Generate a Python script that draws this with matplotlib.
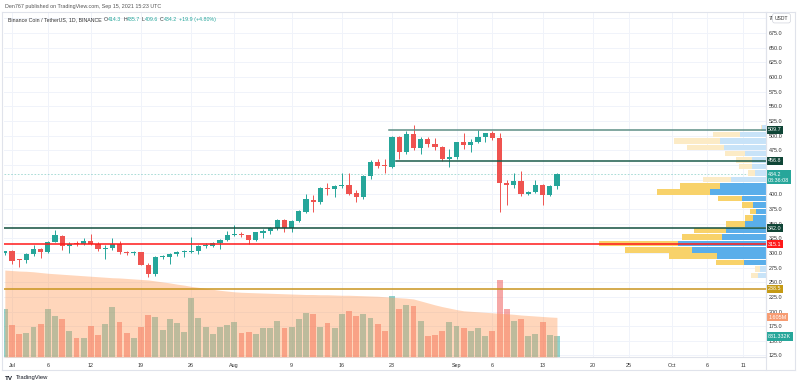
import matplotlib
matplotlib.use('Agg')
import matplotlib.pyplot as plt
import matplotlib.dates as mdates
import matplotlib.transforms as mtrans
from matplotlib.lines import Line2D
import numpy as np
import pandas as pd

plt.rcParams['font.family'] = ['Liberation Sans', 'DejaVu Sans']

# ---------------- data ----------------
dates = pd.date_range('2021-06-30', '2021-09-15', freq='D')
opens = [300, 302.5, 289, 287.5, 298, 307, 301, 319, 328, 311, 317, 315, 321, 316, 307, 309, 316, 302, 299, 301,
         280, 264, 293, 293, 298, 301, 302, 303, 312, 312, 317, 322, 331, 333, 330, 322, 334, 338, 342, 356,
         342, 355, 370, 390, 386, 411, 409, 414, 416, 402, 395, 431, 455, 450, 447, 498, 472, 503, 479, 494,
         486, 480, 460, 464, 490, 484, 489, 497, 504, 496, 419, 415, 422, 401, 404, 416, 398, 414.3]
highs = [304, 305, 290, 299, 313, 309, 320, 339, 330, 319, 321, 326, 333, 318, 313, 325, 320, 304, 303, 302,
         282, 295, 296, 300, 304, 305, 327, 314, 317, 319, 323, 337, 348, 336, 331, 336, 341, 345, 358, 358,
         356, 373, 400, 399, 413, 419, 416, 436, 436, 407, 433, 459, 461, 461, 500, 500, 508, 518, 497, 497,
         496, 482, 477, 490, 504, 494, 510, 505, 508, 504, 424, 436, 439, 406, 424, 418, 416, 435.7]
lows = [297, 281, 276, 282, 295, 292, 299, 318, 305, 300, 311, 313, 313, 304, 290, 305, 298, 296, 297, 279,
        259.5, 261, 289, 281, 294, 293, 300, 298, 308, 310, 307, 320, 328, 327, 316, 320, 325, 333, 339, 335,
        336, 353, 368, 370, 383, 399, 396, 411, 399, 386, 392, 426, 444, 437, 445, 461, 468, 476, 468, 481,
        475, 457, 447, 460, 478, 473, 487, 489, 492, 369, 381, 411, 397, 398, 403, 382, 397, 409.6]
closes = [302.5, 287, 287.5, 298, 307, 301, 319, 330, 311, 316, 315, 321, 315, 307, 309, 316, 301, 299, 301, 280,
          264, 293, 294, 298, 302, 303, 304, 312, 313, 317, 322, 331, 332, 330, 322, 335, 338, 342, 356, 342,
          354, 371, 392, 386, 411, 409, 414, 416, 401, 395, 431, 455, 449, 449, 498, 472, 503, 479, 494, 486,
          480, 460, 464, 489, 484, 489, 497, 504, 496, 419, 415, 422, 401, 404, 416, 398, 414.3, 434.2]
# daily volume (millions)
volumes = [1.94, 1.30, 0.93, 0.96, 1.23, 1.34, 1.94, 1.66, 1.54, 1.05, 0.78, 0.76, 1.26, 0.89, 1.34, 2.04, 1.40, 0.98, 0.78, 1.23,
           1.70, 1.63, 1.09, 1.54, 1.36, 1.02, 2.40, 1.57, 1.23, 0.93, 1.20, 1.30, 1.43, 0.96, 1.00, 0.93, 1.19, 1.19, 1.46, 1.19,
           1.20, 1.54, 1.79, 1.73, 1.20, 1.36, 1.16, 1.74, 1.86, 1.66, 1.74, 1.59, 1.34, 1.06, 2.47, 1.94, 2.11, 2.08, 1.46, 0.85,
           0.88, 1.06, 1.40, 1.26, 1.17, 1.05, 1.19, 0.85, 1.06, 3.12, 1.93, 1.46, 1.53, 0.86, 0.93, 1.43, 0.89, 0.831]
# volume moving average (millions)
vol_ma = [3.52, 3.50, 3.48, 3.47, 3.45, 3.42, 3.39, 3.37, 3.35, 3.33, 3.31, 3.29, 3.27, 3.25, 3.23, 3.21, 3.20, 3.18, 3.16, 3.14,
          3.12, 3.08, 3.04, 3.00, 2.95, 2.91, 2.86, 2.82, 2.78, 2.74, 2.70, 2.67, 2.64, 2.62, 2.61, 2.60, 2.59, 2.58, 2.57, 2.56,
          2.55, 2.54, 2.53, 2.53, 2.52, 2.52, 2.51, 2.50, 2.50, 2.49, 2.48, 2.47, 2.46, 2.44, 2.42, 2.40, 2.38, 2.35, 2.27, 2.19,
          2.11, 2.04, 1.98, 1.92, 1.87, 1.85, 1.83, 1.81, 1.79, 1.77, 1.75, 1.73, 1.70, 1.68, 1.66, 1.64, 1.62, 1.605]

# visible-range volume profile (rows from top to bottom), up / down volume (relative units)
prof_up = [3.3, 25, 45.7, 41.7, 20, 13.3, 13.3, 10.7, 34, 45.7, 55, 23.3, 12.7, 9.3, 12.3, 20, 39.3, 43.3, 87.3, 73.3,
           48.3, 21, 5, 7.7]
prof_down = [1, 27.3, 45.3, 36.3, 20, 16, 12.7, 6.6, 28.3, 39.3, 53.3, 24.4, 10.6, 5.7, 7.7, 19.3, 31.7, 40, 79.4, 66.7,
             47.7, 28, 5, 6.3]
prof_in_value_area = [False] * 9 + [True] * 13 + [False] * 2
prof_top, prof_bottom = 518.5, 256.0

level_values = [509.7, 456.8, 342.0, 315.1, 238.5]
level_start = ['2021-08-23', '2021-08-24', None, None, None]
level_colors = ['#5f8f86', '#1d5c4c', '#12503f', '#ff1a1a', '#c9951f']
level_label_bg = ['#0f4536', '#0f4536', '#0f4536', '#ff1a1a', '#c59a14']

x_tick_dates = ['2021-07-01', '2021-07-06', '2021-07-12', '2021-07-19', '2021-07-26', '2021-08-01', '2021-08-09',
                '2021-08-16', '2021-08-23', '2021-09-01', '2021-09-06', '2021-09-13', '2021-09-20', '2021-09-25',
                '2021-10-01', '2021-10-06', '2021-10-11']
x_tick_labels = ['Jul', '6', '12', '19', '26', 'Aug', '9', '16', '23', 'Sep', '6', '13', '20', '25', 'Oct', '6', '11']
y_ticks = list(range(125, 701, 25))
y_ticks_hidden = [425, 450]   # fully covered by price labels in the reference

last_price = 434.2
countdown = '08:36:08'
vol_ma_label = '1.605M'
vol_label = '831.332K'

# ---------------- figure ----------------
W, H = 800, 385
fig = plt.figure(figsize=(W / 100, H / 100), dpi=100)
fig.patch.set_facecolor('white')
L, R, T, B = 4, 765.5, 12, 357
ax = fig.add_axes([L / W, 1 - B / H, (R - L) / W, (B - T) / H])

UP, DN = '#26a69a', '#ef5350'
x = mdates.date2num(dates)
x0 = mdates.date2num(pd.Timestamp('2021-07-01'))
ax.set_xlim(x0 - 1.116, x0 + 105.09)
ax.set_ylim(122.4, 711.0)

# twins (volume pane overlay and volume profile)
axv = ax.twinx()
axp = ax.twiny()
axv.set_axis_off()
axp.set_axis_off()

xt = mdates.date2num(pd.to_datetime(x_tick_dates))
ax.set_xticks(xt)
ax.set_xticklabels(x_tick_labels, fontsize=3.9, color='#333333')
ax.yaxis.tick_right()
ax.set_yticks(y_ticks)
ax.set_yticklabels(['' if v in y_ticks_hidden else f'{v:.1f}' for v in y_ticks], fontsize=3.9, color='#333333')
ax.tick_params(axis='both', length=0)
ax.tick_params(axis='y', pad=2.3)
ax.tick_params(axis='x', pad=4.5)
for lab in ax.get_yticklabels():
    lab.set_horizontalalignment('left')
ax.grid(True, color='#f0f3fa', lw=0.7)
ax.set_axisbelow(True)
for s in ['top', 'left']:
    ax.spines[s].set_visible(False)
for s in ['right', 'bottom']:
    ax.spines[s].set_color('#e0e3eb')
    ax.spines[s].set_linewidth(0.8)

o = np.array(opens); c = np.array(closes); h = np.array(highs); l = np.array(lows)
up = c >= o
cols = np.where(up, UP, DN)
ax.vlines(x, l, h, colors=cols, lw=0.7, zorder=3)
body_lo = np.minimum(o, c)
body_h = np.maximum(np.abs(c - o), 1.0)
ax.bar(x, body_h, bottom=body_lo, width=0.72, color=cols, lw=0, zorder=4)

# current price line
ax.axhline(last_price, color=UP, lw=0.6, ls=(0, (2, 2)), alpha=0.45, zorder=2)

# ---------------- volume ----------------
axv.set_ylim(0, (B - T) / 24.7)
axv.bar(x, volumes, width=0.82, color=cols, alpha=0.5, lw=0, zorder=1)
axv.fill_between(x, 0, vol_ma, color='#ff9a55', alpha=0.4, lw=0, zorder=2)

# ---------------- volume profile ----------------
pu = np.array(prof_up); pdn = np.array(prof_down)
frac = 167 / (R - L)
axp.set_xlim((pu + pdn).max() / frac, 0)
axp.set_ylim(ax.get_ylim())
nrow = len(pu)
rh = (prof_top - prof_bottom) / nrow
centers = prof_top - (np.arange(nrow) + 0.5) * rh
blue = np.where(prof_in_value_area, '#5aaeea', '#c8e3f8')
yel = np.where(prof_in_value_area, '#f8d26a', '#fcebc6')
axp.barh(centers, pu, height=rh - 1.5, left=0, color=blue, lw=0, zorder=2)
axp.barh(centers, pdn, height=rh - 1.5, left=pu, color=yel, lw=0, zorder=2)

# ---------------- level lines ----------------
bt = ax.transData
for val, st, col in zip(level_values, level_start, level_colors):
    xs = mdates.date2num(pd.Timestamp(st)) - 0.4 if st else ax.get_xlim()[0]
    axp.plot([xs, ax.get_xlim()[1]], [val, val], color=col, lw=1.1, transform=bt, zorder=5)

# ---------------- right-side labels ----------------
ty = mtrans.blended_transform_factory(ax.transAxes, ax.transData)
for val, bg in zip(level_values, level_label_bg):
    axp.text(1.0035, val, f'{val:.1f}', transform=ty, fontsize=3.9, color='white', va='center', ha='left',
             bbox=dict(boxstyle='square,pad=0.3', fc=bg, ec='none'), clip_on=False, zorder=10)
axp.text(1.0035, last_price - 5, f'{last_price:.1f}\n{countdown}', transform=ty, fontsize=3.9, color='white',
         va='center', ha='left', linespacing=1.25,
         bbox=dict(boxstyle='square,pad=0.3', fc=UP, ec='none'), clip_on=False, zorder=10)
tvv = mtrans.blended_transform_factory(axv.transAxes, axv.transData)
axv.text(1.0035, vol_ma[-1], vol_ma_label, transform=tvv, fontsize=3.9, color='white', va='center', ha='left',
         bbox=dict(boxstyle='square,pad=0.3', fc='#f79c72', ec='none'), clip_on=False, zorder=10)
axv.text(1.0035, volumes[-1], vol_label, transform=tvv, fontsize=3.9, color='white', va='center', ha='left',
         bbox=dict(boxstyle='square,pad=0.3', fc=UP, ec='none'), clip_on=False, zorder=10)

# USDT box (covers most of the 700.0 label, as in the reference)
fig.text(781.5 / W, 1 - 18.2 / H, 'USDT', fontsize=3.6, color='#333333', va='center', ha='center',
         bbox=dict(boxstyle='round,pad=0.45', fc='white', ec='#d1d4dc', lw=0.5), zorder=10)

# ---------------- frame & header ----------------
fc = '#e0e3eb'
fig.add_artist(Line2D([2 / W, 795 / W], [1 - 12 / H, 1 - 12 / H], color=fc, lw=0.8))
fig.add_artist(Line2D([2 / W, 795 / W], [1 - 369.5 / H, 1 - 369.5 / H], color=fc, lw=0.8))
fig.add_artist(Line2D([R / W, R / W], [1 - 369.5 / H, 1 - 12 / H], color=fc, lw=0.8))
fig.add_artist(Line2D([795 / W, 795 / W], [1 - 369.5 / H, 1 - 12 / H], color=fc, lw=0.8))
fig.add_artist(Line2D([2 / W, 2 / W], [1 - 369.5 / H, 1 - 12 / H], color=fc, lw=0.8))

fig.text(5 / W, 1 - 6.5 / H, 'Den767 published on TradingView.com, Sep 15, 2021 15:23 UTC', fontsize=3.9,
         color='#555555', va='center', ha='left')

# legend line, pieces laid out one after another
hy = 1 - 19.5 / H
pieces = [('Binance Coin / TetherUS, 1D, BINANCE', '#333333', 2.2),
          ('O', '#333333', 0.3), ('414.3', UP, 1.6),
          ('H', '#333333', 0.3), ('435.7', UP, 1.6),
          ('L', '#333333', 0.3), ('409.6', UP, 1.6),
          ('C', '#333333', 0.3), ('434.2', UP, 1.6),
          ('+19.9 (+4.80%)', UP, 0)]
renderer = fig.canvas.get_renderer()
cx = 8.0
for txt, col, gap in pieces:
    t = fig.text(cx / W, hy, txt, fontsize=3.8, color=col, va='center', ha='left')
    bb = t.get_window_extent(renderer)
    cx += bb.width + gap

fig.text(5 / W, 1 - 378 / H, 'TV', fontsize=4.5, color='#131722', va='center', ha='left', fontweight='bold')
fig.text(16 / W, 1 - 378 / H, 'TradingView', fontsize=4.2, color='#131722', va='center', ha='left')

fig.savefig('out.png', dpi=100, facecolor='white')
